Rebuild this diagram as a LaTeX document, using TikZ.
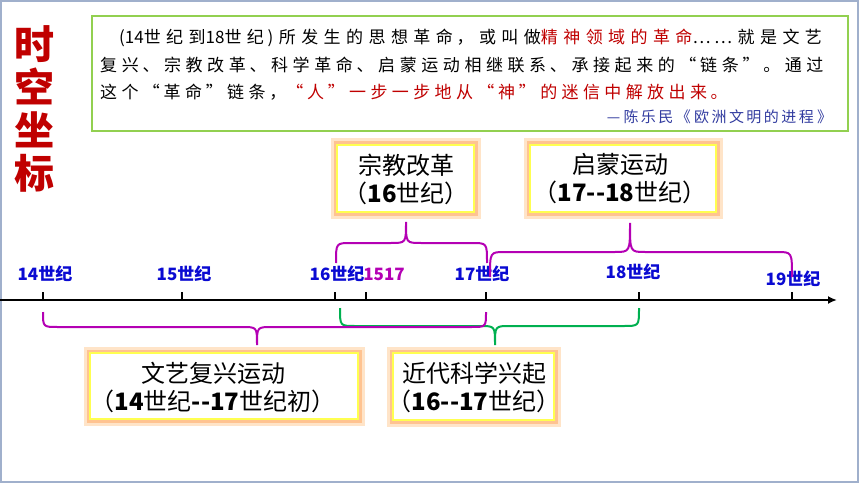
\documentclass[tikz,border=0pt]{standalone}
\usepackage{fontspec}
\setmainfont{Liberation Sans}
\newfontfamily\cjk{Noto Sans CJK SC}
\newfontfamily\cjkq[LetterSpace=22]{Noto Sans CJK SC}
\XeTeXlinebreaklocale "zh"
\XeTeXlinebreakskip=0pt plus 20pt
\tolerance=10000
\usetikzlibrary{arrows.meta}
\definecolor{ttred}{RGB}{192,0,0}
\definecolor{tlblue}{RGB}{10,10,210}
\definecolor{qblue}{RGB}{50,60,160}
\definecolor{mag}{RGB}{180,0,180}
\definecolor{brgreen}{RGB}{0,176,80}
\definecolor{qgreen}{RGB}{146,208,80}
\definecolor{frameblue}{RGB}{160,176,204}
\definecolor{glow}{RGB}{255,195,145}
\definecolor{glowout}{RGB}{255,228,200}
\definecolor{boxyel}{RGB}{255,255,80}
\newcommand\Brc[7]{\draw[brace,#1] (#2,#5) .. controls (#2,#6) .. (#2+15,#6) -- (#3-15,#6) .. controls (#3,#6) .. (#3,#7) .. controls (#3,#6) .. (#3+15,#6) -- (#4-15,#6) .. controls (#4,#6) .. (#4,#5);}

\begin{document}
\begin{tikzpicture}[x=1pt,y=-1pt]
\tikzset{
  qtxt/.style={font=\cjkq\fontsize{17}{20}\selectfont, anchor=west, inner sep=0},
  tl/.style={font=\cjk\bfseries\fontsize{17}{17}\selectfont, text=tlblue, inner sep=0},
  tick/.style={line width=1.5pt},
  brace/.style={line width=2pt},
  glowbox/.style={rectangle, draw=boxyel, line width=1.2pt, fill=white, inner sep=0,
    preaction={draw=glowout, line width=13pt}, preaction={draw=glow, line width=7pt}},
  boxtxt/.style={font=\cjk\fontsize{24}{28}\selectfont, align=center, inner sep=0}
}
\useasboundingbox (0,0) rectangle (860,484);
\fill[white] (0,0) rectangle (860,484);
\draw[frameblue, line width=2pt] (1,1) rectangle (858,482);
\node[font=\cjk\bfseries\fontsize{40}{43}\selectfont, text=ttred, align=center, inner sep=0] (title) at (34,108.5) {时\\空\\坐\\标};
\node[draw=qgreen, line width=1.2pt, minimum width=756pt, minimum height=115pt, inner sep=0] (qbox) at (470,73.5) {};
\node[qtxt, text width=712pt] (q1) at (119,38) {\parfillskip=0pt ({\cjk 14}世纪到{\cjk 18}世纪)所发生的思想革命，或叫做\textcolor{ttred}{精神领域的革命}……就是文艺\par};
\node[qtxt, text width=731pt] (q2) at (100,65) {\parfillskip=0pt 复兴、宗教改革、科学革命、启蒙运动相继联系、承接起来的“链条”。通过\par};
\node[qtxt, text width=635pt] (q3) at (100,92) {\parfillskip=0pt 这个“革命”链条，\textcolor{ttred}{“人”一步一步地从“神”的迷信中解放出来。}\par};
\node[qtxt, anchor=east, text width=229pt, text=qblue, font=\cjkq\fontsize{15}{18}\selectfont] (q4) at (836,117) {\parfillskip=0pt —陈乐民《欧洲文明的进程》\par};
\coordinate (ax0) at (0,300);
\coordinate (ax1) at (837,300);
\draw[line width=2pt, -{Latex[length=9pt,width=8pt]}] (ax0) -- (ax1);
\foreach \n/\x in {14/43,15/182,16/335,1517/366,17/486,18/639,19/792}
  \draw[tick] (\x,300) coordinate (t\n) -- ++(0,-8);
\foreach \n/\x/\y in {14/45/274,15/184/274,16/337/274,17/482/274,18/633/272,19/793/279}
  \node[tl] (l\n) at (\x,\y) {{\n}世纪};
\node[tl, text=mag] (l1517) at (384,274) {1517};
\Brc{brgreen}{340}{495}{639}{308}{326}{345}
\Brc{mag}{43}{257}{486}{312}{327}{345}
\Brc{mag}{336}{406}{487}{263}{243}{222}
\Brc{mag}{490}{630}{792}{277}{252}{223}
\node[glowbox, minimum width=137pt, minimum height=67pt] (zjbox) at (405.5,178.5) {};
\node[boxtxt] (zj) at (406,179) {宗教改革\\（\textbf{16}世纪）};
\node[glowbox, minimum width=186pt, minimum height=67pt] (qmbox) at (623,178.5) {};
\node[boxtxt] (qm) at (620,179) {启蒙运动\\（\textbf{17-{}-18}世纪）};
\node[glowbox, minimum width=268pt, minimum height=66pt] (wybox) at (224,386) {};
\node[boxtxt] (wy) at (213,387) {文艺复兴运动\\（\textbf{14}世纪\textbf{-{}-17}世纪初）};
\node[glowbox, minimum width=161pt, minimum height=67pt] (kxbox) at (473.5,386.5) {};
\node[boxtxt] (kx) at (474,387) {近代科学兴起\\（\textbf{16-{}-17}世纪）};
\end{tikzpicture}
\end{document}
